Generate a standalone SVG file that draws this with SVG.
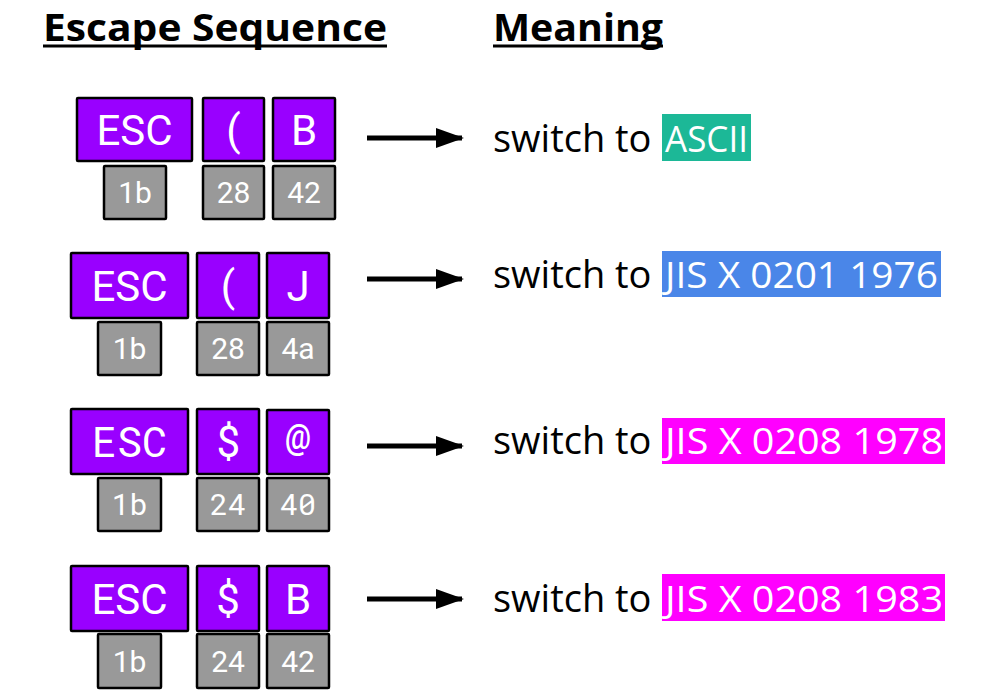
<svg xmlns="http://www.w3.org/2000/svg" width="997" height="700" viewBox="0 0 997 700">
<defs>
<style>
.title{font-family:"Open Sans","Noto Sans",sans-serif;font-weight:700;font-size:38px;fill:#000}
.ul{stroke:#000;stroke-width:3}
.key{fill:#9900ff;stroke:#000;stroke-width:2.5}
.hex{fill:#999999;stroke:#000;stroke-width:2.5}
.kt{font-family:Roboto,"Liberation Sans",sans-serif;font-size:42px;fill:#fff;text-anchor:middle}
.ht{font-family:Roboto,"Liberation Sans",sans-serif;font-size:30px;fill:#fff;text-anchor:middle}
.mono{font-family:"Roboto Mono",Roboto,"Liberation Sans",sans-serif}
.mt{font-family:"Open Sans","Noto Sans",sans-serif;font-size:38px;fill:#000}
.hl{font-family:"Open Sans","Noto Sans",sans-serif;font-size:37px;fill:#fff}
.arrow{stroke:#000;stroke-width:5;fill:none}
</style>
<marker id="ah" viewBox="0 0 28 20" refX="26" refY="10" markerWidth="28" markerHeight="20" markerUnits="userSpaceOnUse" orient="auto">
<path d="M0,0 L28,10 L0,20 Z" fill="#000"/>
</marker>
</defs>
<rect width="997" height="700" fill="#fff"/>

<g id="headers">
<text class="title" x="43" y="41" textLength="344" lengthAdjust="spacingAndGlyphs">Escape Sequence</text>
<line class="ul" x1="43" y1="46" x2="387" y2="46"/>
<text class="title" x="493" y="41" textLength="170" lengthAdjust="spacingAndGlyphs">Meaning</text>
<line class="ul" x1="493" y1="46" x2="663" y2="46"/>
</g>

<!-- Row 1 -->
<g id="r1-esc"><rect class="key" x="77" y="98" width="115" height="63" rx="1"/><text class="kt" x="134.5" y="145">ESC</text></g>
<g id="r1-k2"><rect class="key" x="203" y="98" width="61" height="63" rx="1"/><text class="kt" x="233.5" y="145">(</text></g>
<g id="r1-k3"><rect class="key" x="273" y="98" width="62" height="63" rx="1"/><text class="kt" x="304" y="145">B</text></g>
<g id="r1-h1"><rect class="hex" x="104" y="166" width="62" height="53" rx="1"/><text class="ht" x="135" y="203">1b</text></g>
<g id="r1-h2"><rect class="hex" x="203" y="166" width="61" height="53" rx="1"/><text class="ht" x="233.5" y="203">28</text></g>
<g id="r1-h3"><rect class="hex" x="273" y="166" width="62" height="53" rx="1"/><text class="ht" x="304" y="203">42</text></g>
<g id="r1-meaning">
<text class="mt" x="493" y="152">switch to</text>
<rect x="662" y="114" width="89" height="47" fill="#1cb897"/>
<text class="hl" x="665" y="152" textLength="83" lengthAdjust="spacingAndGlyphs">ASCII</text>
</g>

<!-- Row 2 -->
<g id="r2-esc"><rect class="key" x="71" y="253" width="117" height="65" rx="1"/><text class="kt" x="129.5" y="301">ESC</text></g>
<g id="r2-k2"><rect class="key" x="197" y="253" width="62" height="65" rx="1"/><text class="kt" x="228" y="301">(</text></g>
<g id="r2-k3"><rect class="key" x="267" y="253" width="62" height="65" rx="1"/><text class="kt" x="298" y="301">J</text></g>
<g id="r2-h1"><rect class="hex" x="98" y="322" width="63" height="53" rx="1"/><text class="ht" x="129.5" y="359">1b</text></g>
<g id="r2-h2"><rect class="hex" x="197" y="322" width="62" height="53" rx="1"/><text class="ht" x="228" y="359">28</text></g>
<g id="r2-h3"><rect class="hex" x="267" y="322" width="62" height="53" rx="1"/><text class="ht" x="298" y="359">4a</text></g>
<g id="r2-meaning">
<text class="mt" x="493" y="288">switch to</text>
<rect x="662" y="251" width="279" height="46" fill="#4a86e8"/>
<text class="hl" x="665" y="288" textLength="273" lengthAdjust="spacingAndGlyphs">JIS X 0201 1976</text>
</g>

<!-- Row 3 -->
<g id="r3-esc"><rect class="key" x="71" y="409" width="117" height="65" rx="1"/><text class="kt mono" x="129.5" y="457">ESC</text></g>
<g id="r3-k2"><rect class="key" x="197" y="409" width="62" height="65" rx="1"/><text class="kt mono" x="228" y="457">$</text></g>
<g id="r3-k3"><rect class="key" x="267" y="410" width="62" height="64" rx="1"/><text class="kt mono" x="298" y="456" style="font-size:44px">@</text></g>
<g id="r3-h1"><rect class="hex" x="98" y="478" width="63" height="53" rx="1"/><text class="ht mono" x="129.5" y="515">1b</text></g>
<g id="r3-h2"><rect class="hex" x="197" y="478" width="62" height="53" rx="1"/><text class="ht mono" x="228" y="515">24</text></g>
<g id="r3-h3"><rect class="hex" x="267" y="478" width="62" height="53" rx="1"/><text class="ht mono" x="298" y="515">40</text></g>
<g id="r3-meaning">
<text class="mt" x="493" y="454">switch to</text>
<rect x="662" y="418" width="283" height="46" fill="#ff00ff"/>
<text class="hl" x="665" y="454" textLength="278" lengthAdjust="spacingAndGlyphs">JIS X 0208 1978</text>
</g>

<!-- Row 4 -->
<g id="r4-esc"><rect class="key" x="71" y="566" width="117" height="65" rx="1"/><text class="kt" x="129.5" y="614">ESC</text></g>
<g id="r4-k2"><rect class="key" x="197" y="566" width="62" height="65" rx="1"/><text class="kt" x="228" y="614">$</text></g>
<g id="r4-k3"><rect class="key" x="267" y="566" width="62" height="65" rx="1"/><text class="kt" x="298" y="614">B</text></g>
<g id="r4-h1"><rect class="hex" x="98" y="634" width="63" height="54" rx="1"/><text class="ht" x="129.5" y="672">1b</text></g>
<g id="r4-h2"><rect class="hex" x="197" y="634" width="62" height="54" rx="1"/><text class="ht" x="228" y="672">24</text></g>
<g id="r4-h3"><rect class="hex" x="267" y="634" width="62" height="54" rx="1"/><text class="ht" x="298" y="672">42</text></g>
<g id="r4-meaning">
<text class="mt" x="493" y="612">switch to</text>
<rect x="662" y="574" width="283" height="47" fill="#ff00ff"/>
<text class="hl" x="665" y="612" textLength="278" lengthAdjust="spacingAndGlyphs">JIS X 0208 1983</text>
</g>

<g id="connectors">
<line class="arrow" x1="367" y1="138" x2="462" y2="138" marker-end="url(#ah)"/>
<line class="arrow" x1="367" y1="279" x2="462" y2="279" marker-end="url(#ah)"/>
<line class="arrow" x1="367" y1="446" x2="462" y2="446" marker-end="url(#ah)"/>
<line class="arrow" x1="367" y1="599" x2="462" y2="599" marker-end="url(#ah)"/>
</g>
</svg>
